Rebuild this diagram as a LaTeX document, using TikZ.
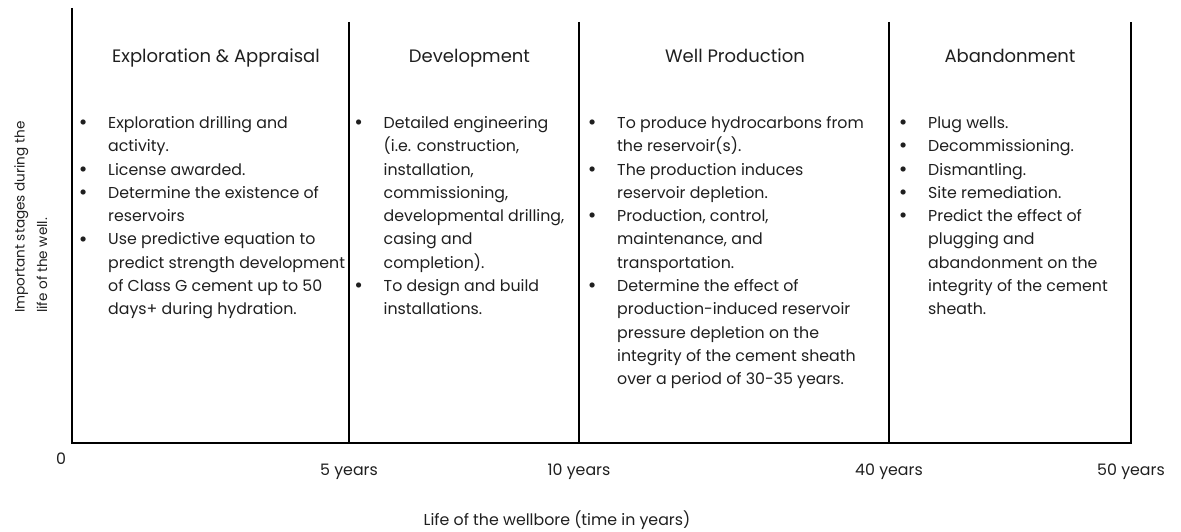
\documentclass[tikz,border=0pt]{standalone}
\usepackage{fontspec}
\setmainfont{Poppins}
\newcommand{\bodyfont}{\fontsize{15.8}{23.3}\selectfont}
\newcommand{\headfont}{\fontsize{18}{22}\selectfont}
\newcommand{\sidefont}{\fontsize{13.6}{22.5}\selectfont}
% bullet centred 25pt left of the item text
\newcommand{\bl}{\llap{\makebox[50pt][c]{\raisebox{-1.2pt}{\fontsize{21}{21}\selectfont\textbullet}}}}
\newcommand{\lines}[1]{\begin{tabular}[t]{@{}l@{}}#1\end{tabular}}
\begin{document}
\begin{tikzpicture}[x=1pt,y=1pt,
  frame/.style={line width=2.2pt, line join=miter, black},
  lbl/.style={inner sep=0pt, font=\bodyfont, text=black!88},
  head/.style={inner sep=0pt, font=\headfont, anchor=base, text=black!88},
  col/.style={lbl, anchor=base west}]
\useasboundingbox (0,0) rectangle (1181,-532);

% time axis and stage boundaries
\coordinate (axtop) at (72,-8);
\coordinate (o)   at (72,-443);
\coordinate (t5)  at (349,-443);
\coordinate (t10) at (579,-443);
\coordinate (t40) at (889,-443);
\coordinate (t50) at (1131,-443);
\coordinate (t5u)  at (349,-22);
\coordinate (t10u) at (579,-22);
\coordinate (t40u) at (889,-22);
\coordinate (t50u) at (1131,-22);
\draw[frame] (axtop) -- (o) -- (t50) -- (t50u);
\draw[frame] (t5u) -- (t5);
\draw[frame] (t10u) -- (t10);
\draw[frame] (t40u) -- (t40);

% stage headings
\node[head] (h1) at (216,-62.5) {Exploration \& Appraisal};
\node[head] (h2) at (469.5,-62.5) {Development};
\node[head] (h3) at (735,-62.5) {Well Production};
\node[head] (h4) at (1010,-62.5) {Abandonment};

% stage activities
\node[col] (c1) at (108,-128.5) {\lines{%
  \bl Exploration drilling and\\
  activity.\\
  \bl License awarded.\\
  \bl Determine the existence of\\
  reservoirs\\
  \bl Use predictive equation to\\
  predict strength development\\
  of Class G cement up to 50\\
  days+ during hydration.}};
\node[col] (c2) at (383.5,-128.5) {\lines{%
  \bl Detailed engineering\\
  (i.e. construction,\\
  installation,\\
  commissioning,\\
  developmental drilling,\\
  casing and\\
  completion).\\
  \bl To design and build\\
  installations.}};
\node[col] (c3) at (617,-128.5) {\lines{%
  \bl To produce hydrocarbons from\\
  the reservoir(s).\\
  \bl The production induces\\
  reservoir depletion.\\
  \bl Production, control,\\
  maintenance, and\\
  transportation.\\
  \bl Determine the effect of\\
  production-induced reservoir\\
  pressure depletion on the\\
  integrity of the cement sheath\\
  over a period of 30-35 years.}};
\node[col] (c4) at (928,-128.5) {\lines{%
  \bl Plug wells.\\
  \bl Decommissioning.\\
  \bl Dismantling.\\
  \bl Site remediation.\\
  \bl Predict the effect of\\
  plugging and\\
  abandonment on the\\
  integrity of the cement\\
  sheath.}};

% axis labels
\node[lbl, font=\sidefont, rotate=90, anchor=base west] (ylab) at (24.5,-313)
  {\lines{Important stages during the\\ life of the well.}};
\node[lbl, anchor=base] (l0)  at (61,-464) {0};
\node[lbl, anchor=base] (l5)  at (349,-475.5) {5 years};
\node[lbl, anchor=base] (l10) at (579,-475.5) {10 years};
\node[lbl, anchor=base] (l40) at (889,-475.5) {40 years};
\node[lbl, anchor=base] (l50) at (1131,-475.5) {50 years};
\node[lbl, anchor=base] (xlab) at (557,-525.5) {Life of the wellbore (time in years)};
\end{tikzpicture}
\end{document}
